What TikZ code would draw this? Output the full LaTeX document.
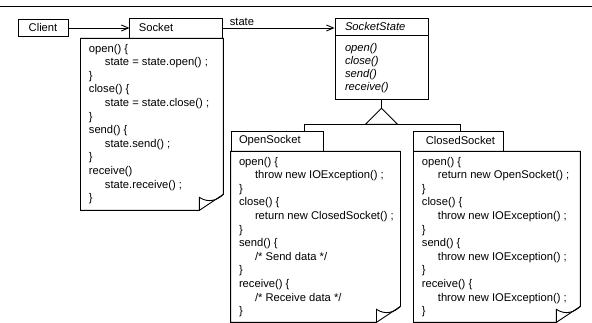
\documentclass[tikz,border=0pt]{standalone}
\usepackage{fontspec}
\setmainfont{Liberation Sans}
\usetikzlibrary{positioning,calc,arrows.meta}

\newcommand{\ind}{\hspace*{16pt}}
% note outline with a folded corner
\newcommand{\dogear}[1]{%
  \draw (#1.north west) -- (#1.north east) -- ([yshift=16pt]#1.south east)
    -- ([xshift=-24pt]#1.south east) -- (#1.south west) -- cycle;
  \draw ([xshift=-24pt]#1.south east) -- ([xshift=-24pt,yshift=13pt]#1.south east)
    .. controls ([xshift=-15pt,yshift=7pt]#1.south east) and ([xshift=-6pt,yshift=10pt]#1.south east)
    .. ([yshift=16pt]#1.south east);}

\begin{document}
\begin{tikzpicture}[x=1pt,y=1pt,line width=0.9pt,>={Straight Barb[length=7pt,width=6pt]},
                    font=\fontsize{11.2}{13.6}\selectfont]
  \tikzstyle{every node}=[inner sep=0pt]
  \tikzstyle{classhead}=[draw,minimum height=20pt,inner xsep=8pt,align=left]
  \tikzstyle{codetext}=[align=left]
  \tikzstyle{abstract}=[font=\fontsize{11.2}{13}\selectfont\itshape]

  \useasboundingbox (0,0) rectangle (592,323);
  \coordinate (rulel) at (0,317);
  \coordinate (ruler) at (592,317);
  \draw (rulel) -- (ruler);

  \node[draw,minimum width=50pt,minimum height=17pt] (client) at (43,295) {Client};

  % Socket
  \node[classhead,text width=75pt,inner xsep=9pt] (sockethead) [right=61pt of client] {Socket};
  \node[minimum width=142pt,minimum height=171pt] (socketbody) [below=0pt of sockethead.south east, anchor=north east] {};
  \node[codetext] (socketcode) [below right=5pt and 8pt of socketbody.north west]
    {open() \{\\ \ind state = state.open() ;\\ \}\\
     close() \{\\ \ind state = state.close() ;\\ \}\\
     send() \{\\ \ind state.send() ;\\ \}\\
     receive()\\ \ind state.receive() ;\\ \}};
  \dogear{socketbody}

  % SocketState
  \node[draw,abstract,text width=73pt,inner xsep=10pt,minimum height=17pt,align=left] (statehead) at (381.5,296.5) {SocketState};
  \node[draw,minimum width=93pt,minimum height=64pt] (statebody) [below=0pt of statehead] {};
  \node[codetext,abstract] (statecode) [below right=7pt and 10pt of statebody.north west]
    {open()\\ close()\\ send()\\ receive()};

  % OpenSocket
  \node[classhead,text width=76pt] (openhead) at (277,182) {OpenSocket};
  \node[minimum width=169pt,minimum height=170pt] (openbody) [below=0pt of openhead.south west, anchor=north west] {};
  \node[codetext] (opencode) [below right=5pt and 8pt of openbody.north west]
    {open() \{\\ \ind throw new IOException() ;\\ \}\\
     close() \{\\ \ind return new ClosedSocket() ;\\ \}\\
     send() \{\\ \ind /* Send data */\\ \}\\
     receive() \{\\ \ind /* Receive data */\\ \}};
  \dogear{openbody}

  % ClosedSocket
  \node[classhead,text width=66pt,inner xsep=12pt] (closedhead) [right=90pt of openhead] {ClosedSocket};
  \node[minimum width=166pt,minimum height=170pt] (closedbody) [below=0pt of closedhead.south west, anchor=north west] {};
  \node[codetext] (closedcode) [below right=5pt and 8pt of closedbody.north west]
    {open() \{\\ \ind return new OpenSocket() ;\\ \}\\
     close() \{\\ \ind throw new IOException() ;\\ \}\\
     send() \{\\ \ind throw new IOException() ;\\ \}\\
     receive() \{\\ \ind throw new IOException() ;\\ \}};
  \dogear{closedbody}

  % connectors
  \draw[->] (client) -- (sockethead);
  \draw[->] (sockethead.east) -- (sockethead.east -| statehead.west);
  \node (statelabel) [above right=2pt and 6pt of sockethead.east] {state};

  \coordinate (apex) at ($(statebody.south)+(0,-8)$);
  \coordinate (base) at ($(apex)+(0,-16)$);
  \draw (statebody.south) -- (apex);
  \draw (apex) -- ($(base)+(-16,0)$) -- ($(base)+(16,0)$) -- cycle;
  \draw ([xshift=74pt]openhead.north west) |- (base) -| ([xshift=47pt]closedhead.north west);
\end{tikzpicture}
\end{document}
